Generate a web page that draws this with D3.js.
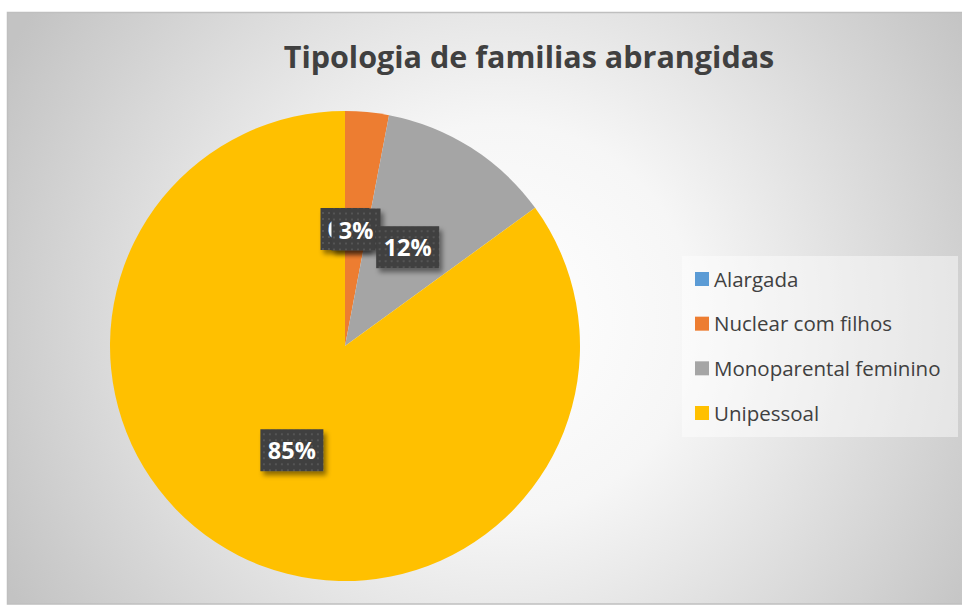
<!DOCTYPE html>
<html>
<head>
<meta charset="utf-8">
<title>Tipologia de familias abrangidas</title>
<script src="https://cdn.jsdelivr.net/npm/d3@7"></script>
<style>
body { margin:0; background:#fff; }
svg { display:block; }
</style>
</head>
<body>
<svg id="chart" width="962" height="605"></svg>
<script>
// data
var categories = ["Alargada", "Nuclear com filhos", "Monoparental feminino", "Unipessoal"];
var values = [0, 3, 12, 85];
var colors = ["#5b9bd5", "#ed7d31", "#a5a5a5", "#ffc000"];
var title = "Tipologia de familias abrangidas";

var svg = d3.select("#chart");
var defs = svg.append("defs");

// background gradient like the office style
var bg = defs.append("radialGradient").attr("id", "bg")
    .attr("gradientUnits", "userSpaceOnUse")
    .attr("cx", 500).attr("cy", 320).attr("r", 560);
bg.append("stop").attr("offset", "0%").attr("stop-color", "#ffffff");
bg.append("stop").attr("offset", "35%").attr("stop-color", "#f6f6f6");
bg.append("stop").attr("offset", "100%").attr("stop-color", "#c3c3c3");

// dotted fill for the label boxes
var pat = defs.append("pattern").attr("id", "dots")
    .attr("patternUnits", "userSpaceOnUse").attr("width", 6).attr("height", 6);
pat.append("rect").attr("width", 6).attr("height", 6).attr("fill", "#3f3f3f");
pat.append("rect").attr("x", 1).attr("y", 1).attr("width", 2).attr("height", 2).attr("fill", "#555555");

var shadow = defs.append("filter").attr("id", "shadow")
    .attr("x", "-20%").attr("y", "-20%").attr("width", "150%").attr("height", "160%");
shadow.append("feDropShadow").attr("dx", 3).attr("dy", 4).attr("stdDeviation", 2.5)
    .attr("flood-color", "#000").attr("flood-opacity", 0.45);

svg.append("rect")
    .attr("x", 7.5).attr("y", 12.5).attr("width", 970).attr("height", 591.5)
    .attr("fill", "url(#bg)")
    .attr("stroke", "#bfbfbf").attr("stroke-width", 1.5);

svg.append("text")
    .attr("x", 529).attr("y", 68)
    .attr("text-anchor", "middle")
    .style("font-family", "'Open Sans', sans-serif")
    .style("font-weight", "bold")
    .style("font-size", "30.5px")
    .attr("fill", "#404040")
    .text(title);

// pie
var cx = 345, cy = 346, radius = 235;
var pie = d3.pie().sort(null).value(function(d) { return d; });
var arcs = pie(values);
var arc = d3.arc().innerRadius(0).outerRadius(radius);
var labelArc = d3.arc().innerRadius(117).outerRadius(117);

var g = svg.append("g").attr("transform", "translate(" + cx + "," + cy + ")");
g.selectAll("path.slice").data(arcs).enter().append("path")
    .attr("class", "slice")
    .attr("d", arc)
    .attr("fill", function(d, i) { return colors[i]; });

// data labels, drawn in series order so the 3% box covers most of the 0%
var fmt = function(d) { return Math.round(d.value) + "%"; };
var labels = g.selectAll("g.lbl").data(arcs).enter().append("g")
    .attr("class", "lbl")
    .attr("transform", function(d) {
        var c = labelArc.centroid(d);
        return "translate(" + c[0] + "," + c[1] + ")";
    });

labels.append("rect")
    .attr("x", function(d) { return -(fmt(d).length === 2 ? 49 : 63) / 2; })
    .attr("y", -21)
    .attr("width", function(d) { return fmt(d).length === 2 ? 49 : 63; })
    .attr("height", 42)
    .attr("fill", "url(#dots)")
    .attr("filter", "url(#shadow)");

labels.append("text")
    .attr("y", 9)
    .attr("text-anchor", "middle")
    .style("font-family", "'Open Sans', sans-serif")
    .style("font-weight", "bold")
    .style("font-size", "23.5px")
    .attr("fill", "#ffffff")
    .text(fmt);

// legend
var legend = svg.append("g").attr("transform", "translate(682,256)");
legend.append("rect").attr("width", 276).attr("height", 181)
    .attr("fill", "#ffffff").attr("fill-opacity", 0.45);

var ly = d3.scalePoint().domain(categories).range([23, 157]);
var items = legend.selectAll("g.item").data(categories).enter().append("g")
    .attr("class", "item")
    .attr("transform", function(d) { return "translate(13," + ly(d) + ")"; });
items.append("rect").attr("x", 0).attr("y", -7).attr("width", 14).attr("height", 14)
    .attr("fill", function(d, i) { return colors[i]; });
items.append("text").attr("x", 19).attr("y", 7.5)
    .style("font-family", "'Open Sans', sans-serif")
    .style("font-size", "20.5px")
    .attr("fill", "#404040")
    .text(function(d) { return d; });
</script>
</body>
</html>
